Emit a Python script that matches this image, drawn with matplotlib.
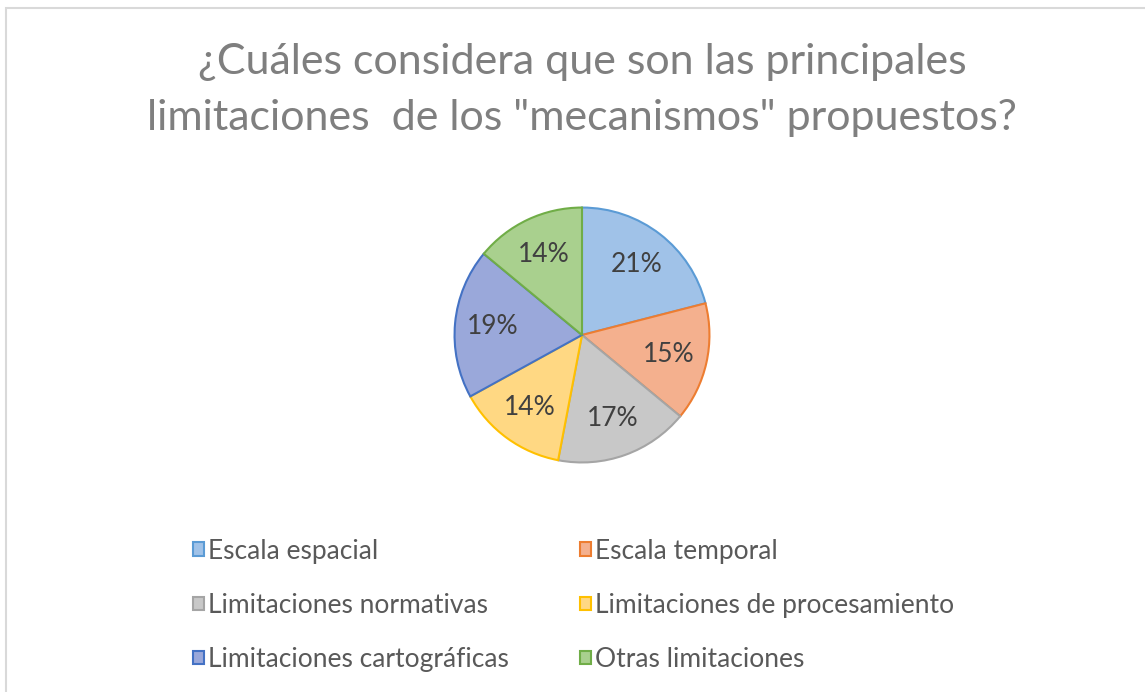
import matplotlib
matplotlib.use("Agg")
import matplotlib.pyplot as plt
from matplotlib.patches import Rectangle

TITLE = '¿Cuáles considera que son las principales\nlimitaciones  de los "mecanismos" propuestos?'
CATEGORIES = ["Escala espacial", "Escala temporal", "Limitaciones normativas",
              "Limitaciones de procesamiento", "Limitaciones cartográficas",
              "Otras limitaciones"]
SHARES = [21, 15, 17, 14, 19, 14]
FILLS = ["#a0c2e8", "#f4b08e", "#c8c8c8", "#ffd883", "#9aa8da", "#a9d08e"]
EDGES = ["#5b9bd5", "#ed7d31", "#a5a5a5", "#ffc000", "#4472c4", "#70ad47"]

plt.rcParams["font.family"] = ["Lato", "DejaVu Sans"]

W, H = 1145, 692
fig = plt.figure(figsize=(W / 100, H / 100), dpi=100)
# chart frame, cut off at the right and bottom like the screenshot
fig.patches.append(Rectangle((6 / W, -0.2), 1.2, 1.2 - 8 / H, transform=fig.transFigure,
                             fill=False, edgecolor="#d9d9d9", linewidth=1.5))

fig.text(582 / W, 1 - 90 / H, TITLE, ha="center", va="center", fontsize=31,
         color="#7f7f7f", linespacing=1.55)

cx, cy, r = 582, 335, 130
ax = fig.add_axes([(cx - r) / W, (H - cy - r) / H, 2 * r / W, 2 * r / H])
wedges, texts, autotexts = ax.pie(
    SHARES, colors=FILLS, startangle=90, counterclock=False, radius=1,
    autopct="%d%%", pctdistance=0.7,
    wedgeprops=dict(linewidth=1.5), textprops=dict(fontsize=19, color="#404040"))
for w, ec in zip(wedges, EDGES):
    w.set_edgecolor(ec)
ax.set_xlim(-1.02, 1.02)
ax.set_ylim(-1.02, 1.02)
ax.set_aspect("equal")
ax.axis("off")

# row-first order for a 2-column legend
order = [0, 2, 4, 1, 3, 5]
fig.legend([wedges[i] for i in order], [CATEGORIES[i] for i in order],
           ncol=2, loc="upper left", bbox_to_anchor=(169 / W, 1 - 515 / H),
           frameon=False, fontsize=19, labelcolor="#595959",
           handlelength=0.42, handleheight=0.42, handletextpad=0.15,
           columnspacing=2.7, labelspacing=1.1)

fig.savefig("out.png", dpi=100)
